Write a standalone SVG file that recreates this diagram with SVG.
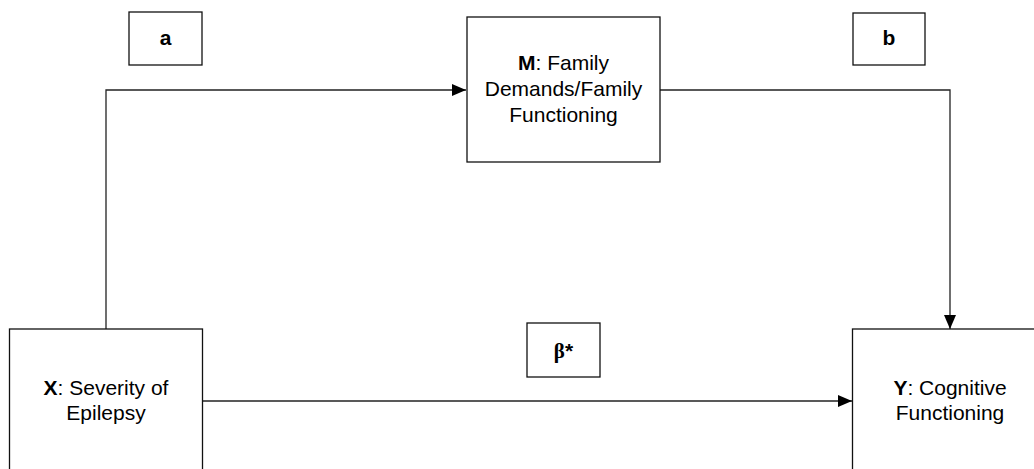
<svg xmlns="http://www.w3.org/2000/svg" width="1034" height="469" viewBox="0 0 1034 469">
  <style>
    .box { fill: #ffffff; stroke: #111111; stroke-width: 1.3; }
    .line { fill: none; stroke: #222222; stroke-width: 1.3; }
    .t { font-family: "Liberation Sans", Arial, sans-serif; font-size: 21px; fill: #000000; text-anchor: middle; }
    .lbl { font-family: "Liberation Sans", Arial, sans-serif; font-size: 21px; font-weight: bold; fill: #000000; text-anchor: middle; }
    .b { font-weight: bold; }
  </style>
  <defs>
    <marker id="arrow" markerWidth="14" markerHeight="12" refX="14" refY="6" orient="auto" markerUnits="userSpaceOnUse">
      <path d="M0,0 L14,6 L0,12 Z" fill="#000000"/>
    </marker>
  </defs>
  <rect width="1034" height="469" fill="#ffffff"/>
  <g id="connectors">
    <polyline class="line" points="106,329 106,90 466,90" marker-end="url(#arrow)"/>
    <polyline class="line" points="660,90 950,90 950,329" marker-end="url(#arrow)"/>
    <line class="line" x1="202" y1="401" x2="852" y2="401" marker-end="url(#arrow)"/>
  </g>
  <g id="label-a">
    <rect class="box" x="129" y="12" width="73" height="53"/>
    <text class="lbl" x="165.5" y="45">a</text>
  </g>
  <g id="label-b">
    <rect class="box" x="853" y="13" width="72" height="52"/>
    <text class="lbl" x="889" y="45">b</text>
  </g>
  <g id="label-beta">
    <rect class="box" x="527" y="323" width="73" height="54"/>
    <text class="lbl" x="563.5" y="358"><tspan font-family="'Liberation Serif', serif">β</tspan>*</text>
  </g>
  <g id="node-m">
    <rect class="box" x="467" y="17" width="193" height="145"/>
    <text class="t" x="563.5" y="70"><tspan class="b">M</tspan>: Family</text>
    <text class="t" x="563.5" y="96">Demands/Family</text>
    <text class="t" x="563.5" y="122">Functioning</text>
  </g>
  <g id="node-x">
    <rect class="box" x="9.5" y="329" width="193" height="160"/>
    <text class="t" x="106" y="395"><tspan class="b">X</tspan>: Severity of</text>
    <text class="t" x="106" y="420">Epilepsy</text>
  </g>
  <g id="node-y">
    <rect class="box" x="852.5" y="329" width="194" height="160"/>
    <text class="t" x="950" y="395"><tspan class="b">Y</tspan>: Cognitive</text>
    <text class="t" x="950" y="420">Functioning</text>
  </g>
</svg>
